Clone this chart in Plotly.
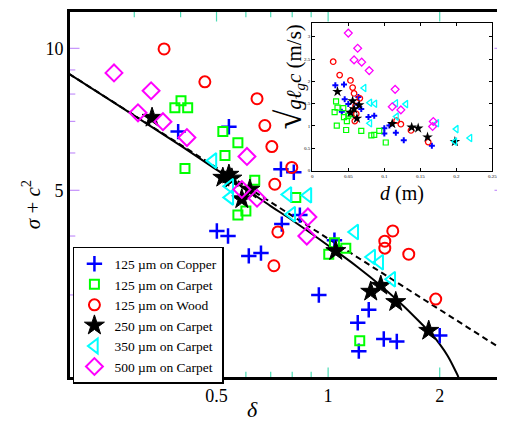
import math
import plotly.graph_objects as go

# ---------------- main plot data (delta, sigma + c^2) ----------------
cu_d = [0.394, 0.540, 0.746, 0.808, 0.501, 0.537, 0.611, 0.659, 0.750, 0.839,
        1.04, 0.944, 1.287, 1.202, 1.21, 1.413, 1.532, 2.00]
cu_y = [6.66, 6.82, 5.54, 5.46, 4.10, 4.00, 3.63, 3.68, 4.24, 4.43,
        3.92, 3.00, 2.79, 2.62, 2.28, 2.42, 2.39, 2.46]

cp_d = [0.386, 0.401, 0.418, 0.520, 0.571, 0.527, 0.411, 0.634, 0.571, 0.600,
        0.818, 1.04, 1.116, 1.004, 1.217]
cp_y = [7.48, 7.74, 7.48, 6.66, 6.31, 5.93, 5.56, 5.25, 4.43, 4.52,
        4.83, 3.87, 3.77, 3.66, 2.40]

wd_d = [0.361, 0.465, 0.643, 0.675, 0.705, 0.798, 0.718, 0.732, 0.714, 1.494,
        1.422, 1.422, 1.650, 1.951]
wd_y = [9.97, 8.49, 7.82, 6.86, 6.19, 5.59, 5.15, 4.08, 3.46, 4.10,
        3.90, 3.77, 3.66, 2.94]

s250_d = [0.335, 0.520, 0.540, 0.550, 0.585, 0.615, 1.049, 1.303, 1.387, 1.522, 1.868]
s250_y = [7.13, 5.32, 5.40, 5.30, 4.79, 5.02, 3.72, 3.05, 3.14, 2.90, 2.52]

s350_d = [0.489, 0.543, 0.543, 0.779, 0.882, 0.798, 1.180, 1.311, 1.378, 1.485]
s350_y = [5.78, 5.10, 4.83, 4.90, 4.88, 4.45, 4.08, 3.61, 3.52, 3.24]

s500_d = [0.2645, 0.333, 0.307, 0.3585, 0.416, 0.604, 0.585, 0.643, 0.882, 0.876]
s500_y = [8.87, 8.13, 7.30, 6.99, 6.47, 5.90, 5.02, 4.81, 4.39, 4.00]

# model curves
dash_d = [0.2, 3.0]
dash_y = [8.83, 2.28]
solid_d = [0.2, 0.3, 0.4, 0.5, 0.6, 0.7, 0.8, 1.0, 1.2, 1.4, 1.6, 1.8, 1.9, 2.0,
           2.1, 2.2, 2.25, 2.3]
solid_y = [8.83, 7.20, 6.22, 5.53, 5.03, 4.63, 4.32, 3.82, 3.44, 3.12, 2.84, 2.59,
           2.48, 2.36, 2.23, 2.08, 2.00, 1.80]

# axes
x_range = [0.2, 3.0]
y_range = [2.0, 12.0]
x_ticks = [0.3, 0.4, 0.5, 0.6, 0.7, 0.8, 0.9, 1, 2]
x_labels = ["", "", "0.5", "", "", "", "", "1", "2"]
y_ticks = [3, 4, 5, 6, 7, 8, 9, 10]
y_labels = ["", "", "5", "", "", "", "", "10"]

# ---------------- inset data (d in m, sqrt(g l_g c) in m/s) ----------------
icu_d = [0.032, 0.044, 0.045, 0.041, 0.050, 0.064, 0.064, 0.068, 0.052, 0.078,
         0.086, 0.100, 0.100, 0.107, 0.116, 0.127, 0.166]
icu_v = [1.91, 1.93, 1.60, 1.32, 1.49, 1.65, 1.47, 1.38, 1.29, 1.20,
         1.23, 0.95, 0.83, 1.01, 0.85, 0.68, 0.56]

icp_d = [0.033, 0.035, 0.043, 0.031, 0.044, 0.050, 0.048, 0.054, 0.034, 0.047,
         0.068, 0.082, 0.086, 0.093, 0.102]
icp_v = [1.55, 1.41, 1.40, 1.31, 1.20, 1.23, 1.11, 1.27, 1.01, 0.91,
         0.89, 0.79, 0.80, 0.89, 0.63]

iwd_d = [0.029, 0.038, 0.053, 0.056, 0.058, 0.066, 0.060, 0.061, 0.059, 0.117,
         0.123, 0.137, 0.161]
iwd_v = [2.44, 2.14, 2.02, 1.86, 1.73, 1.62, 1.45, 1.27, 1.11, 1.12,
         1.04, 0.90, 0.64]

i250_d = [0.035, 0.056, 0.065, 0.058, 0.053, 0.062, 0.111, 0.138, 0.147, 0.160, 0.198]
i250_v = [1.77, 1.56, 1.47, 1.38, 1.30, 1.17, 1.05, 0.97, 0.95, 0.75, 0.65]

i350_d = [0.072, 0.080, 0.087, 0.080, 0.116, 0.130, 0.117, 0.173, 0.200, 0.198, 0.219]
i350_v = [1.85, 1.52, 1.50, 1.06, 1.51, 1.49, 1.21, 1.06, 0.93, 0.65, 0.73]

i500_d = [0.050, 0.063, 0.058, 0.0686, 0.079, 0.115, 0.111, 0.123, 0.168, 0.167]
i500_v = [3.08, 2.74, 2.48, 2.43, 2.24, 1.82, 1.43, 1.36, 1.10, 0.99]

ix_ticks = [0, 0.05, 0.1, 0.15, 0.2, 0.25]
ix_labels = ["0", "0.05", "0.1", "0.15", "0.2", "0.25"]
iy_ticks = [0, 0.5, 1, 1.5, 2, 2.5, 3]
iy_labels = ["0", "0.5", "1", "1.5", "2", "2.5", "3"]

names = ["125 µm on Copper", "125 µm on Carpet", "125 µm on Wood",
         "250 µm on Carpet", "350 µm on Carpet", "500 µm on Carpet"]

SERIF = "Liberation Serif"
BLUE, GREEN, RED, BLACK, CYAN, MAG = "#0000ff", "#00ff00", "#ff0000", "#000000", "#00ffff", "#ff00ff"

fig = go.Figure()

# model lines
fig.add_trace(go.Scatter(x=solid_d, y=solid_y, mode="lines", line=dict(color="black", width=2, shape="spline"),
                         showlegend=False, hoverinfo="skip"))
fig.add_trace(go.Scatter(x=dash_d, y=dash_y, mode="lines", line=dict(color="black", width=2, dash="6px,4px"),
                         showlegend=False, hoverinfo="skip"))

# inward tick marks of the main axes (drawn as half-clipped line markers on the frame)
xt_size = [15 if lab else 9 for lab in x_labels]
yt_size = [15 if lab else 9 for lab in y_labels]
fig.add_trace(go.Scatter(x=x_ticks + x_ticks, y=[y_range[0]] * len(x_ticks) + [y_range[1]] * len(x_ticks),
                         mode="markers", showlegend=False, hoverinfo="skip",
                         marker=dict(symbol="line-ns-open", size=xt_size + xt_size,
                                     line=dict(color="black", width=1.2))))
fig.add_trace(go.Scatter(x=[x_range[0]] * len(y_ticks) + [x_range[1]] * len(y_ticks), y=y_ticks + y_ticks,
                         mode="markers", showlegend=False, hoverinfo="skip",
                         marker=dict(symbol="line-ew-open", size=yt_size + yt_size,
                                     line=dict(color="black", width=1.2))))

main_series = [
    (cu_d, cu_y, dict(symbol="cross-thin-open", size=11, color=BLUE, line=dict(color=BLUE, width=2.5))),
    (cp_d, cp_y, dict(symbol="square-open", size=9, color=GREEN, line=dict(color=GREEN, width=2))),
    (wd_d, wd_y, dict(symbol="circle-open", size=11, color=RED, line=dict(color=RED, width=2))),
    (s250_d, s250_y, dict(symbol="star", size=15, color=BLACK, line=dict(color=BLACK, width=1))),
    (s350_d, s350_y, dict(symbol="triangle-left-open", size=13, color=CYAN, line=dict(color=CYAN, width=2))),
    (s500_d, s500_y, dict(symbol="diamond-open", size=13, color=MAG, line=dict(color=MAG, width=2))),
]
for (xd, yd, mk), nm in zip(main_series, names):
    fig.add_trace(go.Scatter(x=xd, y=yd, mode="markers", name=nm, marker=mk, xaxis="x", yaxis="y"))

inset_series = [
    (icu_d, icu_v, dict(symbol="cross", size=5, color=BLUE)),
    (icp_d, icp_v, dict(symbol="square-open", size=5, color=GREEN, line=dict(color=GREEN, width=1.2))),
    (iwd_d, iwd_v, dict(symbol="circle-open", size=5.5, color=RED, line=dict(color=RED, width=1.3))),
    (i250_d, i250_v, dict(symbol="star", size=8, color=BLACK)),
    (i350_d, i350_v, dict(symbol="triangle-left-open", size=6.5, color=CYAN, line=dict(color=CYAN, width=1.3))),
    (i500_d, i500_v, dict(symbol="diamond-open", size=6, color=MAG, line=dict(color=MAG, width=1.3))),
]
for xd, yd, mk in inset_series:
    fig.add_trace(go.Scatter(x=xd, y=yd, mode="markers", marker=mk, xaxis="x2", yaxis="y2",
                             showlegend=False, hoverinfo="skip"))

# page body has an 8px margin: the figure is sized so that it ends at the window edge
fig.update_layout(
    width=497, height=422,
    margin=dict(l=61, r=0, t=3, b=52, autoexpand=False),
    paper_bgcolor="white", plot_bgcolor="white",
    font=dict(family=SERIF, color="black"),
    xaxis=dict(type="log", range=[math.log10(v) for v in x_range], showline=True, linecolor="black",
               linewidth=2, mirror=True, ticks="", automargin=False,
               tickmode="array", tickvals=x_ticks, ticktext=x_labels, tickfont=dict(size=18, family=SERIF),
               showgrid=False, zeroline=False),
    yaxis=dict(type="log", range=[math.log10(v) for v in y_range], showline=True, linecolor="black",
               linewidth=2, mirror=True, ticks="", automargin=False,
               tickmode="array", tickvals=y_ticks, ticktext=y_labels, tickfont=dict(size=18, family=SERIF),
               showgrid=False, zeroline=False),
    xaxis2=dict(domain=[0.558, 0.971], anchor="y2", range=[0, 0.25], showline=True, linecolor="black",
                linewidth=1.2, mirror="ticks", ticks="inside", ticklen=3, tickwidth=0.8, tickcolor="black",
                tickmode="array", tickvals=ix_ticks, ticktext=ix_labels, automargin=False,
                tickfont=dict(size=5, family=SERIF), showgrid=False, zeroline=False),
    yaxis2=dict(domain=[0.565, 0.9665], anchor="x2", range=[0, 3.3], showline=True, linecolor="black",
                linewidth=1.2, mirror="ticks", ticks="inside", ticklen=3, tickwidth=0.8, tickcolor="black",
                tickmode="array", tickvals=iy_ticks, ticktext=iy_labels, automargin=False,
                tickfont=dict(size=5, family=SERIF), showgrid=False, zeroline=False),
    legend=dict(x=0.009, y=0.357, xanchor="left", yanchor="top", bgcolor="white",
                bordercolor="black", borderwidth=1.5, font=dict(size=13.5, family=SERIF),
                tracegroupgap=0, itemsizing="trace"),
    showlegend=True,
    shapes=[dict(type="rect", xref="paper", yref="paper", x0=0, x1=1, y0=0, y1=1,
                 line=dict(color="black", width=2), fillcolor="rgba(0,0,0,0)", layer="above")],
)

fig.add_annotation(text="<i>σ</i> + <i>c</i><sup>2</sup>", xref="paper", yref="paper", x=-0.087, y=0.471,
                   xanchor="center", yanchor="middle", textangle=-90, showarrow=False,
                   font=dict(size=21, family=SERIF))
fig.add_annotation(text="<i>δ</i>", xref="paper", yref="paper", x=0.422, y=-0.087,
                   xanchor="center", yanchor="middle", showarrow=False, font=dict(size=22, family=SERIF))
fig.add_annotation(text="<i>d</i> (m)", xref="paper", yref="paper", x=0.764, y=0.504,
                   xanchor="center", yanchor="middle", showarrow=False, font=dict(size=20, family=SERIF))
fig.add_annotation(text="<span style='font-size:36px'>√</span><i>gℓ</i><sub><i>g</i></sub><i>c</i> (m/s)",
                   xref="paper", yref="paper", x=0.505, y=0.968, xanchor="center", yanchor="top",
                   textangle=-90, showarrow=False, font=dict(size=21, family=SERIF))

fig.write_html("out.html")
